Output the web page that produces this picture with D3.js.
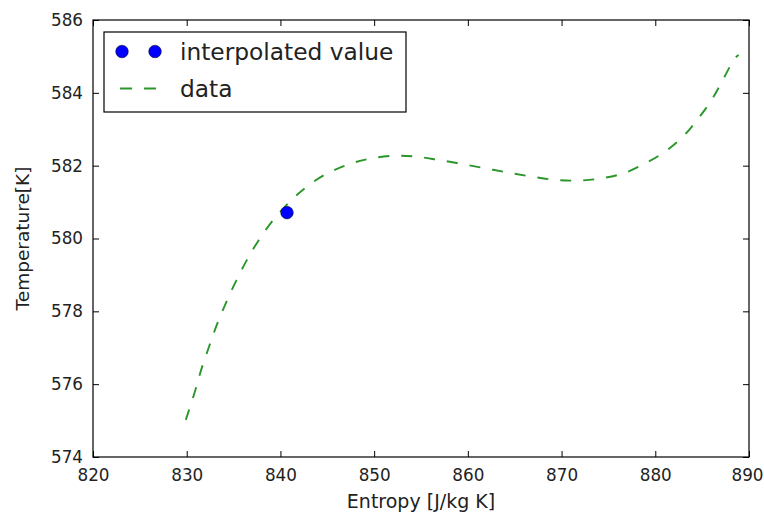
<!DOCTYPE html>
<html>
<head>
<meta charset="utf-8">
<script src="https://cdn.jsdelivr.net/npm/d3@7"></script>
<style>
  body { margin: 0; background: #fff; }
  text { font-family: "DejaVu Sans", sans-serif; fill: #222; }
</style>
</head>
<body>
<svg id="chart" width="764" height="515"></svg>
<script>
// ---- data ----
const entropy = [829.9, 830.9, 831.6, 832.4, 833.2, 834.3, 835.3, 836.4, 837.6, 839.2,
  841.0, 842.7, 844.8, 847.1, 849.3, 852.0, 854.4, 856.8, 859.3, 861.8,
  864.3, 866.8, 869.3, 871.7, 874.2, 876.6, 878.9, 881.0, 883.0, 884.6,
  886.0, 887.3, 888.5, 888.9];
const temperature = [575.02, 575.82, 576.44, 577.04, 577.62, 578.30, 578.85, 579.40, 579.92, 580.50,
  581.01, 581.40, 581.76, 582.02, 582.18, 582.27, 582.25, 582.16, 582.05, 581.93,
  581.81, 581.70, 581.61, 581.59, 581.65, 581.79, 582.06, 582.38, 582.81, 583.30,
  583.80, 584.40, 584.95, 585.04];
const interpEntropy = [840.7];
const interpTemperature = [580.71];
const xTicks = [820, 830, 840, 850, 860, 870, 880, 890];
const yTicks = [574, 576, 578, 580, 582, 584, 586];
const legendLabels = ["interpolated value", "data"];

// ---- layout ----
const svg = d3.select("#chart");
const L = 93, R = 749, T = 20, B = 457;
const x = d3.scaleLinear().domain([820, 890]).range([L, R]);
const y = d3.scaleLinear().domain([574, 586]).range([B, T]);
const green = "#2a962a", blue = "#0000ff";
const tickLen = 6;

// data line
const line = d3.line().x(d => x(d[0])).y(d => y(d[1])).curve(d3.curveCatmullRom);
svg.append("path")
  .datum(entropy.map((e, i) => [e, temperature[i]]))
  .attr("d", line)
  .attr("fill", "none")
  .attr("stroke", green)
  .attr("stroke-width", 1.9)
  .attr("stroke-dasharray", "11,12");

// interpolated point
svg.selectAll("circle.pt")
  .data(interpEntropy.map((e, i) => [e, interpTemperature[i]]))
  .enter().append("circle")
  .attr("class", "pt")
  .attr("cx", d => x(d[0])).attr("cy", d => y(d[1]))
  .attr("r", 6.3)
  .attr("fill", blue).attr("stroke", "#000").attr("stroke-width", 0.5);

// axes (inward ticks on all four sides)
const fs = "16.8px";
const xb = svg.append("g").attr("transform", `translate(0,${B})`)
  .call(d3.axisBottom(x).tickValues(xTicks).tickSizeInner(-tickLen).tickSizeOuter(0).tickPadding(12).tickFormat(d3.format("d")));
const xt = svg.append("g").attr("transform", `translate(0,${T})`)
  .call(d3.axisTop(x).tickValues(xTicks).tickSizeInner(-tickLen).tickSizeOuter(0).tickFormat(""));
const yl = svg.append("g").attr("transform", `translate(${L},0)`)
  .call(d3.axisLeft(y).tickValues(yTicks).tickSizeInner(-tickLen).tickSizeOuter(0).tickPadding(10).tickFormat(d3.format("d")));
const yr = svg.append("g").attr("transform", `translate(${R},0)`)
  .call(d3.axisRight(y).tickValues(yTicks).tickSizeInner(-tickLen).tickSizeOuter(0).tickFormat(""));
[xb, xt, yl, yr].forEach(g => {
  g.select(".domain").remove();
  g.selectAll(".tick line").attr("stroke", "#000").attr("stroke-width", 1);
  g.selectAll("text").style("font-size", fs).attr("fill", "#222")
    .style("font-family", '"DejaVu Sans", sans-serif');
});
// keep the last x tick label inside the canvas
xb.selectAll(".tick text").filter(d => d === 890).attr("dx", -2);

// frame
svg.append("rect").attr("x", L).attr("y", T).attr("width", R - L).attr("height", B - T)
  .attr("fill", "none").attr("stroke", "#000").attr("stroke-width", 1.2);

// axis labels
svg.append("text").attr("x", (L + R) / 2).attr("y", 508).attr("text-anchor", "middle")
  .style("font-size", "19px").text("Entropy [J/kg K]");
svg.append("text").attr("transform", `translate(29,${(T + B) / 2}) rotate(-90)`)
  .attr("text-anchor", "middle").style("font-size", "18.5px").text("Temperature[K]");

// legend
const lg = svg.append("g");
lg.append("rect").attr("x", 104).attr("y", 32).attr("width", 302).attr("height", 80)
  .attr("fill", "#fff").attr("stroke", "#000").attr("stroke-width", 1.2);
[122, 155].forEach(cx => lg.append("circle").attr("cx", cx).attr("cy", 51.5).attr("r", 6.3)
  .attr("fill", blue).attr("stroke", "#000").attr("stroke-width", 0.5));
lg.append("line").attr("x1", 120).attr("x2", 157).attr("y1", 88.5).attr("y2", 88.5)
  .attr("stroke", green).attr("stroke-width", 1.9).attr("stroke-dasharray", "12,12");
lg.selectAll("text.lg").data(legendLabels).enter().append("text")
  .attr("class", "lg")
  .attr("x", 180).attr("y", (d, i) => 59.5 + i * 37.5)
  .style("font-size", "23.3px").text(d => d);
</script>
</body>
</html>
